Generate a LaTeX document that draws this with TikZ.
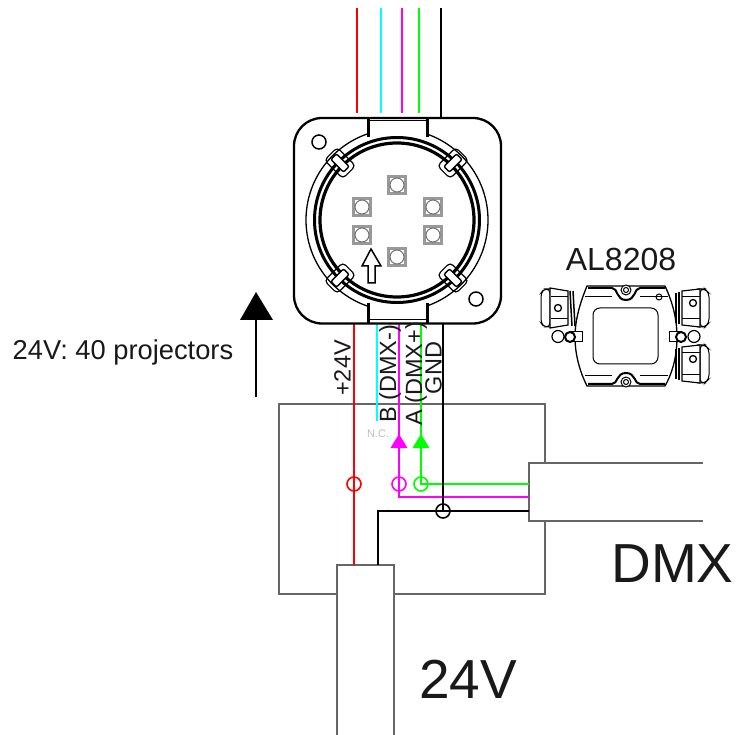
\documentclass[tikz,border=0pt]{standalone}
\usepackage{fontspec}
\setmainfont{Liberation Sans}
\usepackage{tikz}
\definecolor{wirered}{RGB}{255,0,0}
\definecolor{wirecyan}{RGB}{0,255,255}
\definecolor{wiremag}{RGB}{255,0,255}
\definecolor{wiregrn}{RGB}{0,255,0}
\tikzset{
    wire/.style={line width=2pt},
    frame/.style={draw=black!60, line width=1.5pt, fill=white},
    junction/.style={circle, draw, line width=1.6pt, inner sep=0pt, minimum size=14pt},
    pin/.style={draw=black!40, line width=2.2pt, minimum size=17pt, inner sep=0pt},
    latch/.style={draw, fill=white, line width=1.2pt, rounded corners=4pt, minimum width=26pt, minimum height=18pt, inner sep=0pt},
    label/.style={text=black!90, inner sep=0pt},
}
\begin{document}
\begin{tikzpicture}[x=1pt, y=-1pt]
    \useasboundingbox (0,0) rectangle (750,735);
    % outer boxes
    \draw[frame] (279,404) rectangle (545,594);
    \draw[frame] (703,463) -- (529,463) -- (529,521) -- (703,521);
    \draw[frame] (337,735) -- (337,565) -- (394,565) -- (394,735);
    % named ends
    \coordinate (rt) at (357,8);
    \coordinate (rb) at (357,113);
    \coordinate (ct) at (381,8);
    \coordinate (cb) at (381,113);
    \coordinate (mt) at (402,8);
    \coordinate (mb) at (402,113);
    \coordinate (gt) at (419,8);
    \coordinate (gb) at (419,113);
    \coordinate (kt) at (441,8);
    \coordinate (kb) at (441,118);
    \coordinate (red1) at (354,324);
    \coordinate (red2) at (354,565);
    \coordinate (cy1) at (377,324);
    \coordinate (cy2) at (377,421);
    \coordinate (ma1) at (399,324);
    \coordinate (ma2) at (399,497);
    \coordinate (ma3) at (529,497);
    \coordinate (gr1) at (421,324);
    \coordinate (gr2) at (421,484);
    \coordinate (gr3) at (529,484);
    \coordinate (bk1) at (443,324);
    \coordinate (bk2) at (443,511);
    \coordinate (bk3) at (529,511);
    \coordinate (bk4) at (378,511);
    \coordinate (bk5) at (378,565);
    % top wires
    \draw[wire, wirered] (rt) -- (rb);
    \draw[wire, wirecyan] (ct) -- (cb);
    \draw[wire, wiremag] (mt) -- (mb);
    \draw[wire, wiregrn] (gt) -- (gb);
    \draw[wire, black] (kt) -- (kb);
    % bottom wires
    \draw[wire, wirered] (red1) -- (red2);
    \draw[wire, wirecyan] (cy1) -- (cy2);
    \draw[wire, wiremag] (ma1) -- (ma2) -- (ma3);
    \draw[wire, wiregrn] (gr1) -- (gr2) -- (gr3);
    \draw[wire, black] (bk1) -- (bk2);
    \draw[wire, black] (bk5) -- (bk4) -- (bk3);
    \node[junction, draw=wirered] (jred) at (354,484) {};
    \node[junction, draw=wiremag] (jmag) at (399,484) {};
    \node[junction, draw=wiregrn] (jgrn) at (421,484) {};
    \node[junction, draw=black] (jblk) at (443,511) {};
    \fill[wiremag] (399,434) -- (407.5,448) -- (390.5,448) -- cycle;
    \fill[wiregrn] (421,434) -- (429.5,448) -- (412.5,448) -- cycle;
    % connector
    \draw[line width=2.3pt, fill=white, rounded corners=28pt] (294,118) rectangle (501,323.5);
    \foreach \lx/\ly/\lr in {340/163/-45, 453/163/45, 340/278/45, 453/278/-45} {
        \node[latch, rotate=\lr] (l\lx\ly) at (\lx,\ly) {};
    }
    \draw[line width=1.3pt] (397,220) circle (91);
    \draw[line width=3pt] (397,220) circle (82.5);
    \draw[line width=3.2pt] (397,220) circle (77);
    \foreach \lx/\ly/\lr in {340/163/-45, 453/163/45, 340/278/45, 453/278/-45} {
        \node[latch, rotate=\lr, line width=1.4pt, minimum width=18pt, minimum height=8pt, rounded corners=2pt] (i\lx\ly) at (\lx,\ly) {};
    }
    \fill[white] (369.5,120) rectangle (425.5,136);
    \fill[white] (369.5,304) rectangle (425.5,321);
    \draw[line width=3pt] (368,118) -- (368,137);
    \draw[line width=3pt] (427,118) -- (427,137);
    \draw[line width=3pt] (368,303) -- (368,323);
    \draw[line width=3pt] (427,303) -- (427,323);
    \draw[line width=1pt] (369.5,121) -- (425.5,121);
    \draw[line width=1pt] (369.5,320) -- (425.5,320);
    \draw[line width=1.5pt] (319,142) circle (7);
    \draw[line width=1.5pt] (476,299) circle (7);
    \foreach \px/\py in {397/185, 362/207, 433/207, 362/235, 433/235, 397/257} {
        \node[pin] (p\px\py) at (\px,\py) {};
        \draw[black!55, line width=1pt] (\px,\py) circle (7);
    }
    \draw[line width=1.5pt, fill=white] (371,249) -- (381,266) -- (375,266) -- (375,283) -- (368,283) -- (368,266) -- (362,266) -- cycle;
    % device
    \draw[line width=1.3pt, fill=white] (587,286) -- (665,286) .. controls (673,303) and (677,320) .. (677,337) .. controls (677,355) and (673,372) .. (665,386) -- (587,386) .. controls (580,372) and (575,355) .. (575,337) .. controls (575,320) and (580,303) .. (587,286) -- cycle;
    \draw[line width=1pt, rounded corners=7pt] (593,308) rectangle (658,364);
    \draw[line width=2pt] (588,288) -- (612,288) .. controls (618,288) and (616,300) .. (626,300) .. controls (636,300) and (634,288) .. (640,288) -- (665,288);
    \draw[line width=2pt] (588,384) -- (612,384) .. controls (618,384) and (616,373) .. (626,373) .. controls (636,373) and (634,384) .. (640,384) -- (665,384);
    \draw[line width=1pt] (585,297) -- (612,297);
    \draw[line width=1pt] (640,297) -- (668,297);
    \draw[line width=1pt] (585,376) -- (612,376);
    \draw[line width=1pt] (640,376) -- (668,376);
    \foreach \sx/\sy in {626/290, 626/382} {
        \draw[line width=1pt, fill=white] (\sx,\sy) circle (5);
        \draw[line width=1pt] (\sx,\sy) circle (2.5);
    }
    \draw[line width=1pt] (659,297) circle (3);
    % glands
    \draw[line width=1pt, fill=white, rounded corners=4pt] (550,289) -- (544,289) -- (541,293) -- (541,323) -- (544,327) -- (550,327) -- cycle;
    \draw[line width=1.2pt, fill=white] (550,288) -- (568,291) -- (568,325) -- (550,328) -- cycle;
    \draw[line width=1pt] (551,297) -- (568,297);
    \draw[line width=1pt] (551,319) -- (568,319);
    \draw[line width=1.5pt] (570,291) -- (572,326);
    \draw[line width=1.5pt] (573,291) -- (575,326);
    \draw[line width=1.3pt] (558,308) circle (3.5);
    \foreach \gy in {289, 345} {
        \draw[line width=1pt, fill=white, rounded corners=4pt] (700,\gy) -- (705,\gy) -- (709,\gy+4) -- (709,\gy+34) -- (705,\gy+38) -- (700,\gy+38) -- cycle;
        \draw[line width=1.2pt, fill=white] (682,\gy+2) -- (700,\gy) -- (700,\gy+38) -- (682,\gy+36) -- cycle;
        \draw[line width=1pt] (682,\gy+8) -- (700,\gy+8);
        \draw[line width=1pt] (682,\gy+30) -- (700,\gy+30);
        \draw[line width=1.5pt] (679,\gy+3) -- (679,\gy+35);
        \draw[line width=1.5pt] (676,\gy+4) -- (676,\gy+34);
        \draw[line width=1.3pt] (693,\gy+14) circle (3.5);
    }
    % ears
    \draw[line width=1pt, fill=white] (570,332) rectangle (582,342);
    \draw[line width=1pt, fill=white] (669,332) rectangle (681,342);
    \draw[line width=1.2pt, fill=white] (558,336.5) circle (6);
    \draw[line width=1.2pt, fill=white] (694,336.5) circle (6);
    \draw[line width=2pt, fill=white] (570,337) circle (5);
    \draw[line width=2pt, fill=white] (681,337) circle (5);
    % left arrow
    \coordinate (up1) at (256,397);
    \coordinate (up2) at (256,320);
    \draw[line width=1.5pt] (up1) -- (up2);
    \fill (256,292) -- (273,320) -- (240,320) -- cycle;
    % labels
    \node[label, font=\fontsize{27.3}{27.3}\selectfont] (load) at (123,352) {24V: 40 projectors};
    \node[label, font=\fontsize{23.5}{23.5}\selectfont, rotate=90] (lp) at (342.5,368) {+24V};
    \node[label, font=\fontsize{23.5}{23.5}\selectfont, rotate=90] (lb) at (390,374) {B (DMX-)};
    \node[label, font=\fontsize{23.5}{23.5}\selectfont, rotate=90] (la) at (416,374) {A (DMX+)};
    \node[label, font=\fontsize{23.5}{23.5}\selectfont, rotate=90] (lg) at (433.5,368) {GND};
    \node[font=\fontsize{11}{11}\selectfont, text=black!25, inner sep=0pt] (nc) at (378,434) {N.C.};
    \node[label, font=\fontsize{32}{32}\selectfont] (dev) at (621,259) {AL8208};
    \node[label, font=\fontsize{55}{55}\selectfont] (dmx) at (672.5,564) {DMX};
    \node[label, font=\fontsize{55}{55}\selectfont] (pwr) at (468,679) {24V};
\end{tikzpicture}
\end{document}
